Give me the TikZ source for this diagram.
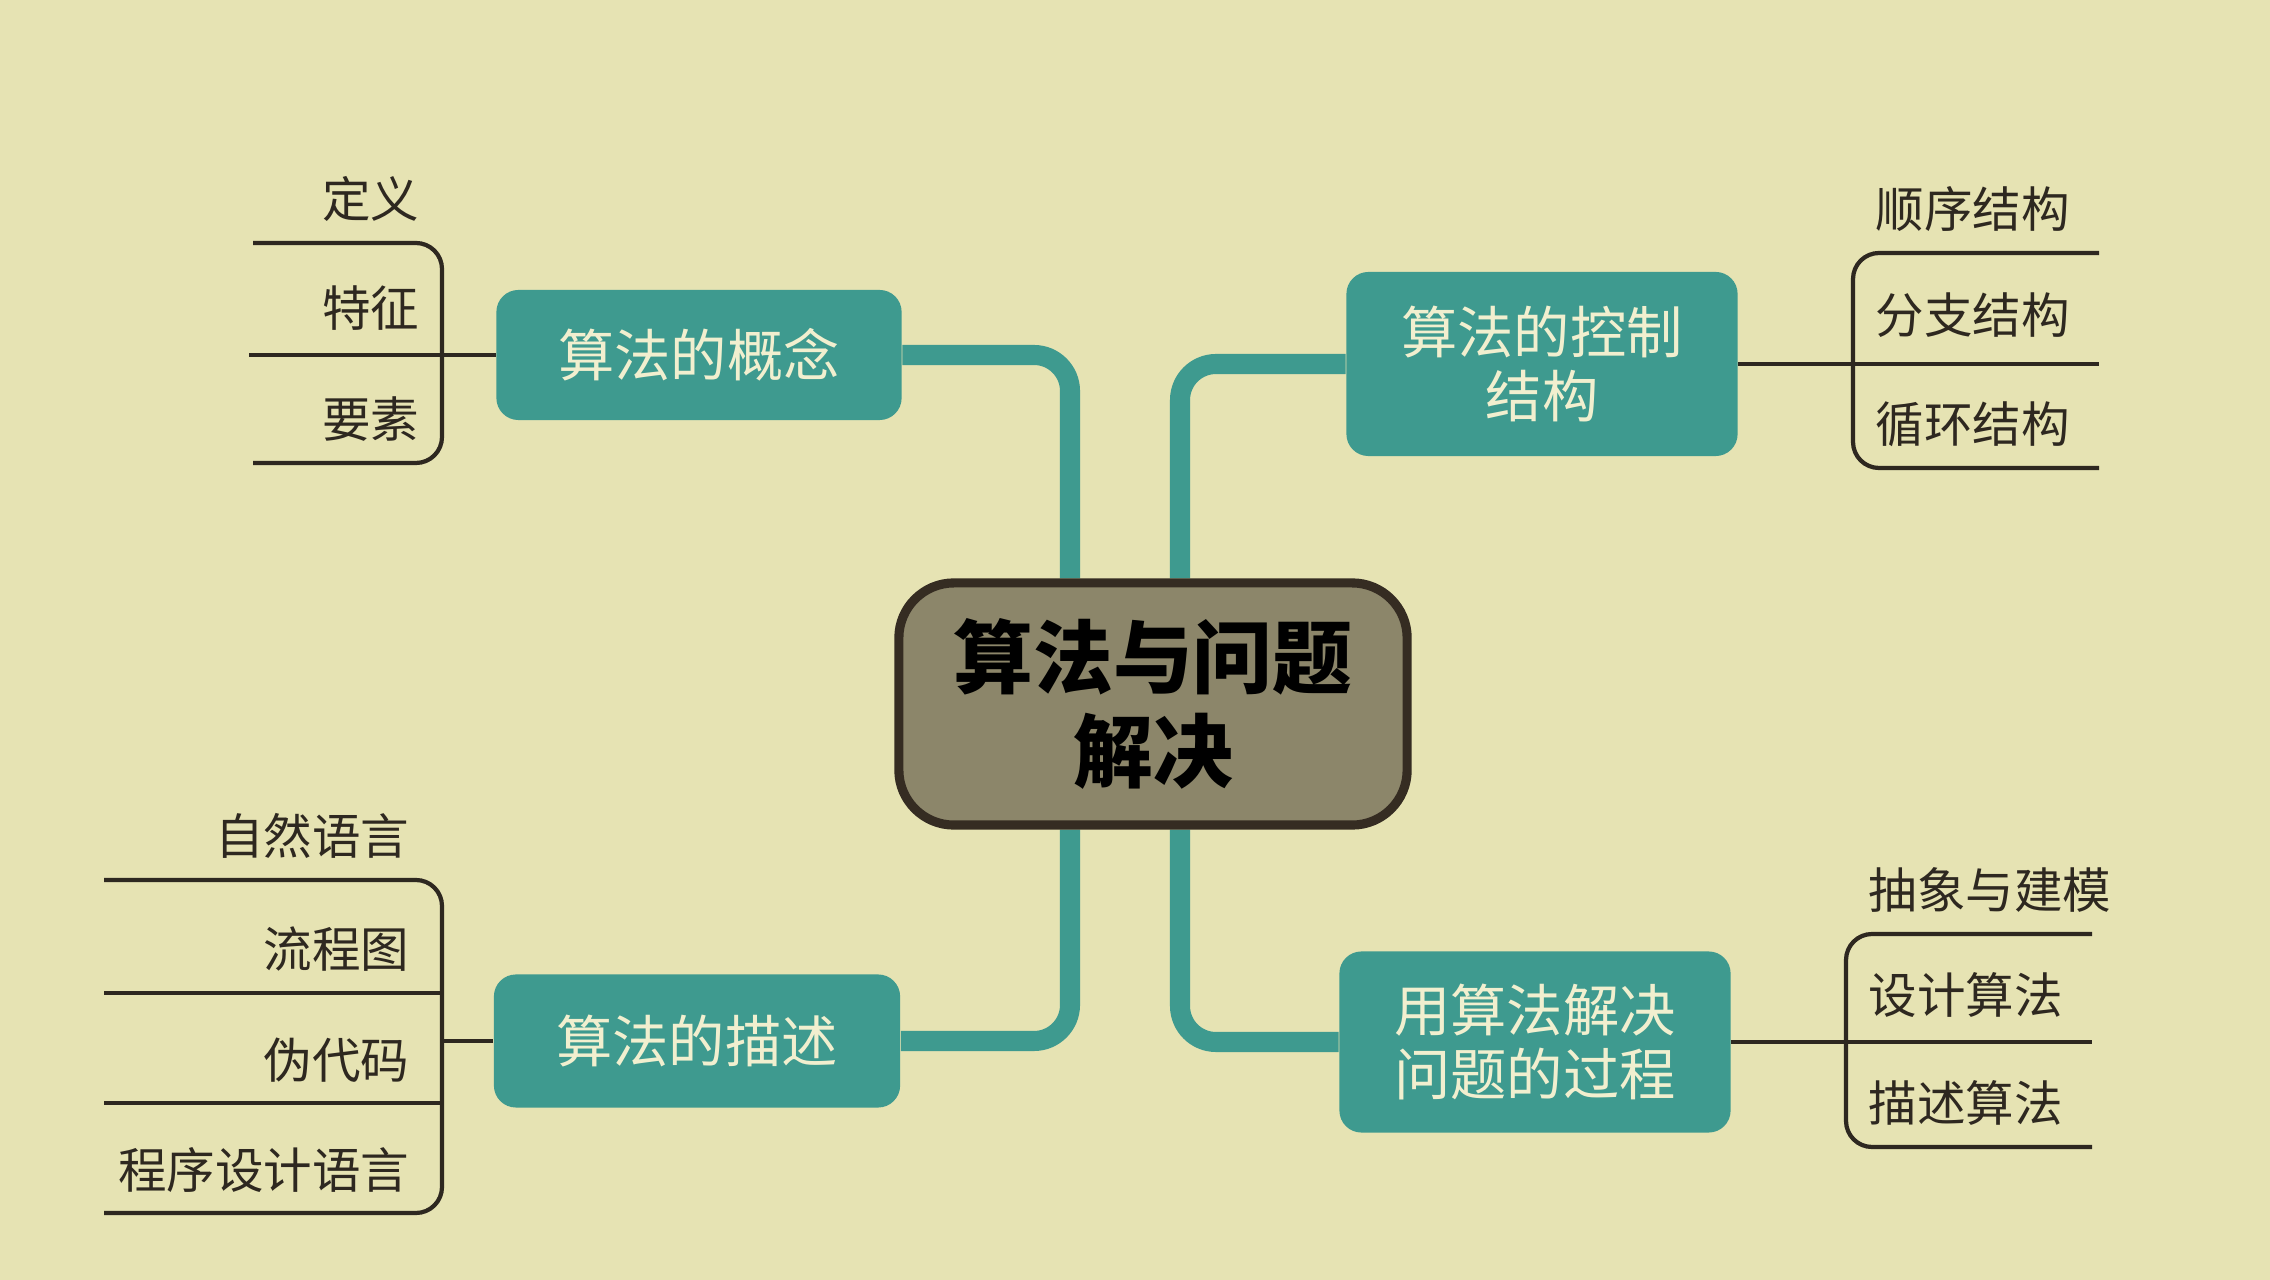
\documentclass[tikz,border=0pt]{standalone}
\usepackage{fontspec}
\setmainfont{Noto Sans CJK SC}
\usetikzlibrary{calc}
\definecolor{bgc}{HTML}{E6E3B3}
\definecolor{tealc}{HTML}{3E9A8F}
\definecolor{creamc}{HTML}{F1EFCF}
\definecolor{hubfill}{HTML}{8C866A}
\definecolor{hubline}{HTML}{352C22}
\definecolor{inkc}{HTML}{2E2820}
\pgfdeclarelayer{bglayer}
\pgfdeclarelayer{connlayer}
\pgfsetlayers{bglayer,connlayer,main}
\begin{document}
\begin{tikzpicture}[x=0.01cm,y=-0.01cm,
 topic/.style={fill=tealc, rounded corners=0.22cm, text=creamc, font=\fontsize{16pt}{18.2pt}\selectfont, align=center, inner sep=0pt},
 hub/.style={fill=hubfill, draw=hubline, line width=2.6pt, rounded corners=0.55cm, text=black, font=\fontsize{22.7pt}{26.7pt}\selectfont\bfseries, align=center, inner sep=0pt},
 leaf/.style={text=inkc, font=\fontsize{13.8pt}{16pt}\selectfont, inner sep=0pt},
 conn/.style={draw=tealc, line width=5.7pt, rounded corners=0.36cm},
 brace/.style={draw=inkc, line width=1.2pt, rounded corners=0.26cm},
]
\begin{pgfonlayer}{bglayer}
\fill[bgc] (0,0) rectangle (2270,1280);
\end{pgfonlayer}
\useasboundingbox (0,0) rectangle (2270,1280);

% main nodes
\node[hub, minimum width=5.08cm, minimum height=2.42cm] (hub) at (1153,704) {算法与问题\\解决};
\node[topic, minimum width=4.05cm, minimum height=1.30cm] (concept) at (699,355) {算法的概念};
\node[topic, minimum width=3.91cm, minimum height=1.84cm] (ctrl) at (1542,364) {算法的控制\\结构};
\node[topic, minimum width=4.06cm, minimum height=1.33cm] (desc) at (697,1041) {算法的描述};
\node[topic, minimum width=3.91cm, minimum height=1.81cm] (proc) at (1535,1042) {用算法解决\\问题的过程};

% teal connectors
\coordinate (vL) at (1070,0);
\coordinate (vR) at (1180,0);
\begin{pgfonlayer}{connlayer}
\draw[conn] (concept.east) -| (hub.north -| vL);
\draw[conn] (ctrl.west) -| (hub.north -| vR);
\draw[conn] (desc.east) -| (hub.south -| vL);
\draw[conn] (proc.west) -| (hub.south -| vR);
\end{pgfonlayer}

% top-left bracket
\coordinate (tlA) at (253,243);
\coordinate (tlB) at (442,243);
\coordinate (tlC) at (442,463);
\coordinate (tlD) at (253,463);
\coordinate (tlM) at (249,352);
\draw[brace] (tlA) -- (tlB) -- (tlC) -- (tlD);
\draw[brace] (concept.west) -- (concept.west -| tlM);
\node[leaf, anchor=base east] (def) at (420,218) {定义};
\node[leaf, anchor=base east] (feat) at (420,327) {特征};
\node[leaf, anchor=base east] (elem) at (420,438) {要素};

% top-right bracket
\coordinate (trA) at (2099,253);
\coordinate (trB) at (1853,253);
\coordinate (trC) at (1853,468);
\coordinate (trD) at (2099,468);
\coordinate (trM) at (2099,359);
\draw[brace] (trA) -- (trB) -- (trC) -- (trD);
\draw[brace] (ctrl.east) -- (ctrl.east -| trM);
\node[leaf, anchor=base west] (seq) at (1875,228) {顺序结构};
\node[leaf, anchor=base west] (branch) at (1875,334) {分支结构};
\node[leaf, anchor=base west] (loop) at (1875,443) {循环结构};

% bottom-left bracket
\coordinate (blA) at (104,880);
\coordinate (blB) at (442,880);
\coordinate (blC) at (442,1213);
\coordinate (blD) at (104,1213);
\coordinate (blE) at (104,993);
\coordinate (blF) at (442,993);
\coordinate (blG) at (104,1103);
\coordinate (blH) at (442,1103);
\draw[brace] (blA) -- (blB) -- (blC) -- (blD);
\draw[brace] (blE) -- (blF);
\draw[brace] (blG) -- (blH);
\draw[brace] (desc.west) -- (desc.west -| blB);
\node[leaf, anchor=base east] (nat) at (410,855) {自然语言};
\node[leaf, anchor=base east] (flow) at (410,968) {流程图};
\node[leaf, anchor=base east] (pseudo) at (410,1078) {伪代码};
\node[leaf, anchor=base east] (prog) at (410,1188) {程序设计语言};

% bottom-right bracket
\coordinate (brA) at (2092,934);
\coordinate (brB) at (1846,934);
\coordinate (brC) at (1846,1147);
\coordinate (brD) at (2092,1147);
\coordinate (brM) at (2092,1039);
\draw[brace] (brA) -- (brB) -- (brC) -- (brD);
\draw[brace] (proc.east) -- (proc.east -| brM);
\node[leaf, anchor=base west] (abs) at (1868,909) {抽象与建模};
\node[leaf, anchor=base west] (design) at (1868,1014) {设计算法};
\node[leaf, anchor=base west] (descr) at (1868,1122) {描述算法};
\end{tikzpicture}
\end{document}
